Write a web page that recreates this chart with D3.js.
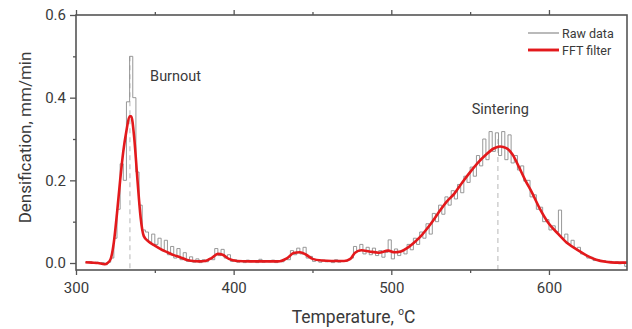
<!DOCTYPE html>
<html>
<head>
<meta charset="utf-8">
<script src="https://cdn.jsdelivr.net/npm/d3@7"></script>
<style>
  body { margin: 0; background: #fff; }
  svg text { font-family: Roboto, "DejaVu Sans", sans-serif; fill: #3a3a3a; }
</style>
</head>
<body>
<svg id="chart" width="632" height="329"></svg>
<script>
// raw densification rate [T, mm/min]
const rawData = [
  [306,0.001],[308,0.003],[310,0.000],[312,0.002],[314,-0.001],[316,0.001],[318,-0.004],[320,0.002],
  [322,0.012],[324,0.06],[326,0.13],[328,0.24],[330,0.2],[332,0.39],[334,0.5],[336,0.4],[338,0.22],
  [340,0.14],[342,0.08],[344,0.075],[346,0.05],[348,0.07],[350,0.045],[352,0.06],[354,0.03],[356,0.055],
  [358,0.02],[360,0.04],[362,0.012],[364,0.035],[366,0.008],[368,0.025],[370,0.004],[372,0.015],
  [374,0.002],[376,0.01],[378,0.001],[380,0.008],[382,0.003],[384,0.01],[386,0.008],[388,0.035],
  [390,0.018],[392,0.033],[394,0.012],[396,0.02],[398,0.004],[400,0.008],[402,0.002],[404,0.006],
  [406,0.001],[408,0.007],[410,0.003],[412,0.005],[414,0.001],[416,0.009],[418,0.002],[420,0.006],
  [422,0.003],[424,0.007],[426,0.001],[428,0.005],[430,0.003],[432,0.01],[434,0.008],[436,0.03],
  [438,0.02],[440,0.036],[442,0.022],[444,0.038],[446,0.012],[448,0.016],[450,0.004],[452,0.008],
  [454,0.002],[456,0.007],[458,0.003],[460,0.006],[462,0.001],[464,0.008],[466,0.002],[468,0.006],
  [470,0.004],[472,0.008],[474,0.012],[476,0.04],[478,0.028],[480,0.045],[482,0.022],[484,0.038],
  [486,0.02],[488,0.036],[490,0.018],[492,0.03],[494,0.014],[496,0.026],[498,0.056],[500,0.01],
  [502,0.034],[504,0.018],[506,0.03],[508,0.022],[510,0.045],[512,0.032],[514,0.06],[516,0.045],
  [518,0.075],[520,0.06],[522,0.095],[524,0.07],[526,0.12],[528,0.1],[530,0.14],[532,0.118],
  [534,0.16],[536,0.14],[538,0.175],[540,0.155],[542,0.19],[544,0.17],[546,0.21],[548,0.195],
  [550,0.232],[552,0.21],[554,0.26],[556,0.235],[558,0.3],[560,0.25],[562,0.318],[564,0.27],
  [566,0.315],[568,0.26],[570,0.318],[572,0.25],[574,0.31],[576,0.242],[578,0.26],[580,0.225],
  [582,0.235],[584,0.198],[586,0.2],[588,0.16],[590,0.165],[592,0.13],[594,0.135],[596,0.1],
  [598,0.105],[600,0.08],[602,0.09],[604,0.075],[606,0.128],[608,0.06],[610,0.07],[612,0.045],
  [614,0.055],[616,0.035],[618,0.038],[620,0.022],[622,0.02],[624,0.012],[626,0.014],[628,0.006],
  [630,0.008],[632,0.004],[634,0.006],[636,0.002],[638,0.004],[640,0.001],[642,0.003],[644,-0.002],
  [646,0.002],[648,-0.008],[650,0.001]
];

// FFT filtered curve [T, mm/min]
const fftData = [
  [306,0.002],[310,0.001],[314,0.0],[318,-0.003],[320,0.0],[322,0.01],[324,0.05],[326,0.12],
  [328,0.2],[330,0.27],[332,0.32],[334,0.355],[335,0.355],[337,0.3],[339,0.2],[341,0.11],[343,0.065],
  [346,0.052],[350,0.042],[354,0.033],[358,0.026],[362,0.019],[366,0.014],[370,0.008],[374,0.005],
  [378,0.004],[382,0.005],[386,0.012],[390,0.022],[393,0.02],[397,0.01],[402,0.005],[410,0.004],
  [420,0.004],[428,0.004],[434,0.012],[438,0.024],[442,0.026],[446,0.02],[450,0.01],[456,0.006],
  [462,0.005],[470,0.005],[474,0.01],[477,0.025],[481,0.031],[486,0.028],[492,0.025],[498,0.03],
  [502,0.026],[506,0.028],[510,0.036],[514,0.048],[518,0.062],[522,0.08],[526,0.1],[530,0.122],
  [535,0.148],[540,0.168],[545,0.195],[550,0.22],[555,0.243],[560,0.262],[565,0.277],[569,0.282],
  [573,0.278],[577,0.262],[581,0.232],[585,0.2],[589,0.172],[594,0.133],[600,0.095],[606,0.07],
  [612,0.047],[618,0.032],[624,0.018],[630,0.008],[636,0.003],[642,0.001],[650,0.001]
];

const xTicks = [300, 400, 500, 600];
const xMinorTicks = [350, 450, 550];
const yTicks = [0.0, 0.2, 0.4, 0.6];
const yMinorTicks = [0.1, 0.3, 0.5];

// peak markers: [temperature, top of dashed line]
const peakLines = [[334.2, 0.5], [567.6, 0.3]];
const peakLabels = [
  { text: "Burnout", T: 347, v: 0.44 },
  { text: "Sintering", T: 551, v: 0.36 }
];
const legendItems = [
  { name: "Raw data", color: "#8c8c8c", width: 0.9 },
  { name: "FFT filter", color: "#e3191c", width: 2.6 }
];

const margin = { top: 15, right: 5, bottom: 59, left: 76 };
const width = 632 - margin.left - margin.right;
const height = 329 - margin.top - margin.bottom;
const axisColor = "#555";

const svg = d3.select("#chart")
  .append("g")
  .attr("transform", "translate(" + margin.left + "," + margin.top + ")");

const x = d3.scaleLinear().domain([300, 649.5]).range([0, width]);
const y = d3.scaleLinear().domain([-0.0169, 0.6]).range([height, 0]);

svg.append("clipPath").attr("id", "clip")
  .append("rect").attr("width", width).attr("height", height);

// dashed peak lines
svg.append("g").selectAll("line")
  .data(peakLines)
  .enter().append("line")
  .attr("x1", d => x(d[0])).attr("x2", d => x(d[0]))
  .attr("y1", d => y(d[1])).attr("y2", height)
  .attr("stroke", "#c4c4c4").attr("stroke-width", 1.2)
  .attr("stroke-dasharray", "5,4");

// raw data
svg.append("path")
  .datum(rawData)
  .attr("clip-path", "url(#clip)")
  .attr("fill", "none")
  .attr("stroke", legendItems[0].color)
  .attr("stroke-width", legendItems[0].width)
  .attr("d", d3.line().curve(d3.curveStepAfter).x(d => x(d[0])).y(d => y(d[1])));

// FFT filtered
svg.append("path")
  .datum(fftData)
  .attr("clip-path", "url(#clip)")
  .attr("fill", "none")
  .attr("stroke", legendItems[1].color)
  .attr("stroke-width", legendItems[1].width)
  .attr("stroke-linejoin", "round")
  .attr("d", d3.line().curve(d3.curveMonotoneX).x(d => x(d[0])).y(d => y(d[1])));

// axes
function styleAxis(g) {
  g.select(".domain").remove();
  g.selectAll("line").attr("stroke", axisColor).attr("stroke-width", 1.3);
  g.selectAll("text").style("font-size", "15px").attr("fill", "#3a3a3a");
}

svg.append("g")
  .attr("transform", "translate(0," + height + ")")
  .call(d3.axisBottom(x).tickValues(xTicks).tickSize(5).tickPadding(7).tickFormat(d3.format("d")))
  .call(styleAxis);
svg.append("g")
  .attr("transform", "translate(0," + height + ")")
  .call(d3.axisBottom(x).tickValues(xMinorTicks).tickSize(3).tickFormat(""))
  .call(styleAxis);
svg.append("g")
  .call(d3.axisTop(x).tickValues(xTicks).tickSize(5).tickFormat(""))
  .call(styleAxis);
svg.append("g")
  .call(d3.axisTop(x).tickValues(xMinorTicks).tickSize(3).tickFormat(""))
  .call(styleAxis);
svg.append("g")
  .call(d3.axisLeft(y).tickValues(yTicks).tickSize(6).tickPadding(4).tickFormat(d3.format(".1f")))
  .call(styleAxis);
svg.append("g")
  .call(d3.axisLeft(y).tickValues(yMinorTicks).tickSize(3).tickFormat(""))
  .call(styleAxis);

// frame
svg.append("rect")
  .attr("width", width).attr("height", height)
  .attr("fill", "none").attr("stroke", axisColor).attr("stroke-width", 1.6);

// axis titles
svg.append("text")
  .attr("x", width / 2 + 2).attr("y", height + 53)
  .attr("text-anchor", "middle")
  .style("font-size", "17.5px")
  .html("Temperature, <tspan dy='-8' style='font-size:10px'>o</tspan><tspan dy='8'>C</tspan>");

svg.append("text")
  .attr("transform", "translate(-45," + (height / 2 - 5) + ") rotate(-90)")
  .attr("text-anchor", "middle")
  .style("font-size", "17px")
  .text("Densification, mm/min");

// peak labels
svg.append("g").selectAll("text")
  .data(peakLabels)
  .enter().append("text")
  .attr("x", d => x(d.T)).attr("y", d => y(d.v))
  .style("font-size", "14.5px")
  .text(d => d.text);

// legend
const legend = svg.append("g").attr("transform", "translate(" + (width - 99) + ",18)");
const li = legend.selectAll("g")
  .data(legendItems)
  .enter().append("g")
  .attr("transform", (d, i) => "translate(0," + (i * 17) + ")");
li.append("line")
  .attr("x1", 0).attr("x2", 31)
  .attr("stroke", d => d.color).attr("stroke-width", d => d.width + 0.3);
li.append("text")
  .attr("x", 34).attr("y", 4.5)
  .style("font-size", "12.5px")
  .text(d => d.name);
</script>
</body>
</html>
